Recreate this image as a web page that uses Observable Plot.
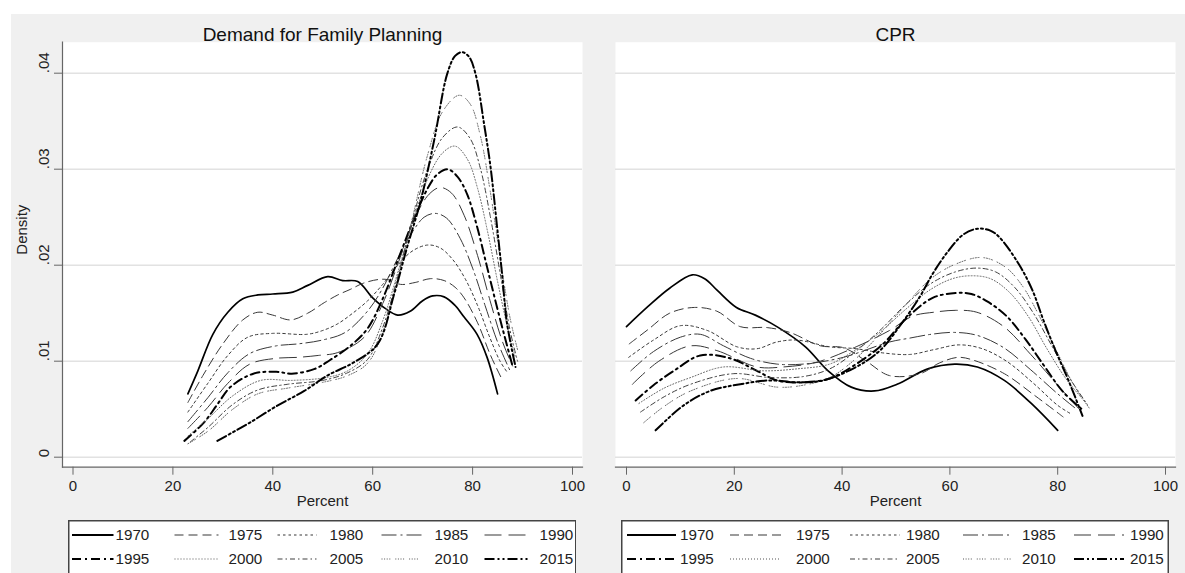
<!DOCTYPE html>
<html><head><meta charset="utf-8">
<script src="https://cdn.jsdelivr.net/npm/d3@7"></script>
<script src="https://cdn.jsdelivr.net/npm/@observablehq/plot@0.6"></script>
<style>
html,body{margin:0;padding:0;background:#fff;width:1185px;height:573px;overflow:hidden;font-family:"Liberation Sans",Arial,sans-serif;}
#bg{position:absolute;left:11px;top:14px;width:1174px;height:559px;background:#f0f0f0;}
.panel{position:absolute;top:0;}
.leg{position:absolute;top:520px;}
</style></head><body>
<div id="bg"></div>
<div id="left" class="panel" style="left:0px"></div>
<div id="right" class="panel" style="left:600px"></div>
<div id="legL" class="leg"></div>
<div id="legR" class="leg"></div>
<script>
// ---------- data ----------
const years = [1970,1975,1980,1985,1990,1995,2000,2005,2010,2015];
const xTicks = [0,20,40,60,80,100];
const yTicks = [0,0.01,0.02,0.03,0.04];
const yTickLabels = ["0",".01",".02",".03",".04"];

// Demand for Family Planning: [percent, density]
const dfp1970 = [[23,.0066],[25,.0090],[28,.0128],[31,.0151],[34,.0165],[37,.0169],[40,.0170],[44,.0172],[47,.0179],[51,.0188],[54,.0184],[57,.0183],[60,.0166],[62.5,.0155],[65,.0148],[67.5,.0152],[70,.0163],[72,.0168],[74.3,.0167],[76.5,.0158],[78.3,.0146],[80.9,.0128],[82.9,.0104],[85,.0066]];
const dfp1975 = [[23,.0057],[26,.0085],[30,.0118],[34,.0143],[37,.0151],[40,.0148],[43.6,.0143],[47,.0150],[50.3,.0161],[53,.0169],[55.6,.0175],[58,.0181],[61,.0185],[63,.0185],[65.6,.0180],[68.5,.0182],[71.6,.0186],[74.3,.0184],[76.5,.0177],[78.3,.0166],[81,.0140],[83.6,.0106],[86,.0080]];
const dfp1980 = [[23,.0047],[27,.0077],[31,.0106],[35,.0125],[40,.0129],[46.8,.0128],[50,.0132],[53,.0139],[56,.0150],[59,.0163],[62,.0180],[65,.0200],[68,.0215],[71,.0221],[73.5,.0218],[76,.0206],[78.5,.0186],[81,.0158],[83.5,.0124],[85.5,.0100],[87,.0088]];
const dfp1985 = [[23,.0037],[27,.0062],[31,.0088],[35.4,.0108],[40.7,.0116],[45,.0118],[49.9,.0122],[54.5,.0130],[59.1,.0153],[62,.0176],[65,.0207],[68,.0235],[70.3,.0250],[72.5,.0254],[74.8,.0249],[77.5,.0228],[80,.0197],[82.5,.0158],[85,.0120],[87.5,.0090]];
const dfp1990 = [[23,.0030],[27,.0052],[31,.0077],[35.4,.0097],[40.7,.0103],[45,.0104],[49.1,.0106],[53,.0109],[58.3,.0125],[62,.0160],[65.5,.0208],[68.5,.0250],[71.3,.0274],[73.5,.0281],[75.8,.0275],[78.3,.0252],[81,.0210],[83.5,.0163],[86,.0120],[88,.0095]];
const dfp1995 = [[22.3,.0017],[26.2,.0036],[28.9,.0055],[31.5,.0073],[36.1,.0087],[40.7,.0089],[43.8,.0087],[48.4,.0092],[51.4,.0101],[56,.0118],[59.1,.0135],[62,.0165],[65,.0205],[68,.0245],[71,.0280],[73,.0295],[75,.0300],[77,.0292],[78.9,.0274],[80.9,.0240],[82.9,.0198],[84.9,.0156],[86.6,.0122],[88,.0095]];
const dfp2000 = [[23,.0022],[27,.0040],[32,.0064],[37.6,.0080],[43.8,.0080],[50.7,.0083],[55,.0090],[59,.0108],[62,.0142],[65,.0192],[68,.0245],[71,.0290],[74,.0317],[76.5,.0324],[79,.0310],[81,.0280],[83,.0235],[85,.0183],[87,.0135],[88.5,.0105]];
const dfp2005 = [[23.5,.0016],[27,.0031],[32,.0055],[37,.0070],[43,.0076],[50,.0080],[55,.0088],[59,.0102],[62,.0135],[65,.0188],[68,.0248],[71,.0300],[74,.0333],[77,.0344],[79.5,.0332],[81.5,.0302],[83.5,.0252],[85.5,.0192],[87.5,.0132],[89,.0100]];
const dfp2010 = [[23,.0014],[27,.0027],[32,.0050],[37,.0066],[43,.0072],[50,.0078],[55,.0085],[59,.0098],[62,.0130],[65,.0185],[68,.0250],[71,.0315],[74,.0360],[77.3,.0377],[79.5,.0368],[81.5,.0336],[83.5,.0278],[85.5,.0208],[87.5,.0145],[89,.0112]];
const dfp2015 = [[28.9,.0017],[32,.0026],[35.4,.0036],[41,.0054],[46.3,.0069],[50.9,.0085],[56.3,.0099],[61,.0118],[64.3,.0170],[66.9,.0219],[69.6,.0267],[72.3,.0330],[74.9,.0399],[76.5,.0418],[77.9,.0422],[79.3,.0417],[80.6,.0399],[82.3,.0347],[83.6,.0302],[84.9,.0240],[85.9,.0191],[86.9,.0139],[88.6,.0094]];

// CPR: [percent, density]
const cpr1970 = [[0,.0136],[4,.0157],[8,.0176],[12.2,.0190],[14.5,.0186],[16.8,.0174],[20.4,.0156],[23.9,.0148],[28.2,.0135],[33.2,.0115],[37.4,.0090],[41.7,.0073],[46,.0069],[50.2,.0076],[55.9,.0092],[60.9,.0097],[65.1,.0094],[70.1,.0080],[75.1,.0056],[80,.0028]];
const cpr1975 = [[0.5,.0118],[4,.0133],[8,.0150],[12.6,.0156],[16.8,.0152],[21.1,.0136],[26.1,.0135],[30.3,.0130],[36,.0116],[40.3,.0114],[44.5,.0100],[48.8,.0085],[54.5,.0087],[58,.0098],[61.5,.0104],[64.4,.0101],[70.1,.0087],[75.8,.0064],[81,.0042]];
const cpr1980 = [[0.4,.0104],[5,.0122],[10,.0137],[15,.0132],[20.5,.0115],[24.2,.0113],[27.9,.0120],[31.6,.0122],[37.7,.0115],[42.6,.0113],[47,.0109],[52.5,.0107],[57,.0112],[61.7,.0117],[66,.0113],[70.5,.0100],[75.5,.0077],[80,.0054],[82.5,.0045]];
const cpr1985 = [[0.8,.0090],[5,.0110],[10,.0125],[13.7,.0128],[18,.0116],[23,.0103],[27.9,.0097],[32.8,.0097],[40.2,.0104],[48.8,.0120],[52.5,.0124],[56.5,.0128],[60.7,.0130],[65,.0127],[70,.0114],[75,.0091],[80,.0066],[83.5,.0050]];
const cpr1990 = [[1.1,.0076],[6,.0100],[11.9,.0116],[16.8,.0111],[24.2,.0094],[29.1,.0094],[35.3,.0099],[42.6,.0115],[48.8,.0132],[53.1,.0147],[57,.0151],[61.1,.0153],[65,.0151],[70,.0136],[75,.0107],[80,.0075],[84,.0050]];
const cpr1995 = [[1.7,.0059],[5,.0075],[8.8,.0090],[13.7,.0106],[19.2,.0103],[24.2,.0090],[27.9,.0080],[32.8,.0078],[37.7,.0082],[42.6,.0097],[47.6,.0118],[52,.0145],[56.8,.0166],[61.1,.0171],[64,.0170],[67,.0162],[70.5,.0147],[74,.0123],[77.5,.0095],[81,.0068],[84.5,.0050]];
const cpr2000 = [[2.3,.0056],[7,.0072],[11.9,.0083],[18,.0094],[25.4,.0090],[31.6,.0092],[37.7,.0097],[42,.0110],[47,.0130],[52,.0155],[56.5,.0175],[60.5,.0186],[64,.0189],[67.5,.0186],[71,.0172],[74.5,.0147],[78,.0113],[81.5,.0082],[85,.0058]];
const cpr2005 = [[2.6,.0047],[7,.0063],[11.9,.0076],[19.8,.0087],[26.6,.0083],[32.8,.0084],[37.7,.0092],[42,.0108],[47,.0132],[52,.0160],[56.5,.0181],[61,.0193],[65,.0197],[68.5,.0193],[72,.0177],[75.5,.0150],[79,.0115],[82.5,.0080],[85.5,.0055]];
const cpr2010 = [[3.2,.0036],[7,.0053],[11.9,.0069],[20.5,.0082],[27.9,.0073],[32.8,.0075],[37.7,.0083],[42,.0100],[47,.0128],[52,.0160],[56.5,.0186],[61,.0201],[66,.0208],[70.3,.0198],[73.5,.0178],[76.5,.0148],[79.5,.0114],[83,.0075],[86,.0050]];
const cpr2015 = [[5.4,.0028],[10.6,.0054],[15.5,.0069],[21.1,.0076],[26.6,.0080],[31.6,.0078],[36.5,.0080],[42.6,.0094],[47,.0111],[51,.0139],[54.4,.0167],[56.8,.0191],[59.6,.0214],[62.5,.0232],[65.1,.0238],[67.5,.0236],[69.2,.0229],[72.8,.0201],[75.3,.0174],[77.4,.0142],[79.6,.0111],[82,.0080],[84.6,.0043]];

const dfpSeries = [dfp1970,dfp1975,dfp1980,dfp1985,dfp1990,dfp1995,dfp2000,dfp2005,dfp2010,dfp2015];
const cprSeries = [cpr1970,cpr1975,cpr1980,cpr1985,cpr1990,cpr1995,cpr2000,cpr2005,cpr2010,cpr2015];

// ---------- styles ----------
const lineColor = ["#000","#383838","#383838","#383838","#383838","#000","#555","#404040","#555","#000"];
const lineWidth = [1.7,1.0,1.0,1.0,1.0,2.0,0.9,1.0,0.9,2.0];
const lineDash  = [null,"9,5","2.5,3","15,4,2,4","17,7","9,4,2,4","1,2","5,3,1.5,3","1,1.6,1,1.6,1,1.6,1,5","10,3,2,3,2,3"];

const FONT = "Liberation Sans, Arial, sans-serif";

function panel(series, o) {
  const marks = [
    Plot.frame({fill:"#fff", stroke:null}),
    Plot.ruleY(yTicks, {stroke:"#e2e2e2", strokeWidth:1.5}),
    Plot.frame({anchor:"bottom", stroke:"#666", strokeWidth:1.2}),
    Plot.axisX({ticks:xTicks, tickSize:8, tickPadding:5, fontSize:15, stroke:"#666", fill:"#222", label:null}),
    Plot.text([o.title], {text:d=>d, frameAnchor:"top", dy:-14.7, fontSize:19, fill:"#111"}),
    Plot.text(["Percent"], {text:d=>d, frameAnchor:"bottom", dy:39, fontSize:15, fill:"#222"})
  ];
  if (o.yaxis) {
    marks.push(
      Plot.frame({anchor:"left", stroke:"#666", strokeWidth:1.2}),
      Plot.axisY({ticks:yTicks, tickSize:8, tickFormat:()=>"", stroke:"#666", label:null}),
      Plot.text(yTicks, {y:d=>d, text:(d,i)=>yTickLabels[i], frameAnchor:"left", dx:-18, rotate:-90, fontSize:15, fill:"#222"}),
      Plot.text(["Density"], {text:d=>d, frameAnchor:"left", dx:-40, rotate:-90, fontSize:15, fill:"#222"})
    );
  }
  series.forEach((s,i)=>{
    marks.push(Plot.line(s, {x:d=>d[0], y:d=>d[1], curve:"catmull-rom",
      stroke:lineColor[i], strokeWidth:lineWidth[i], strokeDasharray:lineDash[i]}));
  });
  return Plot.plot({
    width:o.width, height:520,
    marginLeft:o.ml, marginRight:o.mr, marginTop:41.7, marginBottom:53.3,
    x:{domain:[0,100], insetLeft:o.il, insetRight:o.ir},
    y:{domain:[0,0.04], insetTop:31, insetBottom:10, axis:null},
    style:{background:"none", fontFamily:FONT, fontSize:"15px", color:"#222", overflow:"visible"},
    marks
  });
}

document.getElementById("left").appendChild(panel(dfpSeries, {title:"Demand for Family Planning", width:600, ml:62, mr:18, il:10.5, ir:10, yaxis:true}));
document.getElementById("right").appendChild(panel(cprSeries, {title:"CPR", width:585, ml:15, mr:10, il:11, ir:10, yaxis:false}));

// ---------- legends ----------
function legend(el, boxLeft, boxWidth, cols) {
  const div = document.getElementById(el);
  div.style.left = boxLeft + "px";
  const svg = d3.create("svg").attr("width", boxWidth).attr("height", 60)
    .style("font-family", FONT).style("display","block");
  svg.append("rect").attr("x",0.75).attr("y",0.75).attr("width",boxWidth-1.5).attr("height",70)
    .attr("fill","#fff").attr("stroke","#444").attr("stroke-width",1.5);
  years.forEach((yr,i)=>{
    const c = cols[i%5], row = Math.floor(i/5);
    const cy = 15 + row*24;
    svg.append("line").attr("x1",c[0]-boxLeft).attr("x2",c[1]-boxLeft).attr("y1",cy).attr("y2",cy)
      .attr("stroke",lineColor[i]).attr("stroke-width",lineWidth[i]+0.2)
      .attr("stroke-dasharray",lineDash[i]);
    svg.append("text").attr("x",c[2]-boxLeft).attr("y",cy).attr("dy","0.36em")
      .attr("font-size",15.2).attr("fill","#222").text(yr);
  });
  div.appendChild(svg.node());
}
legend("legL", 67.5, 508.5, [[71.5,113,115],[174,218,228],[277,316,329],[381,421,434],[484,528,539]]);
legend("legR", 621, 548, [[627,676,680],[730,781,796],[850,900,906],[963,1011,1022],[1074,1124,1130]]);
</script>
</body></html>
